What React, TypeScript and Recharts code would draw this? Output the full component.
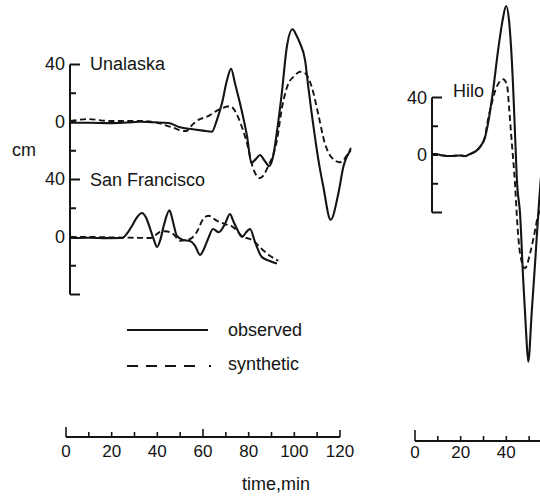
import { Line, LineChart, ReferenceLine, XAxis, YAxis } from 'recharts';

type Row = [number, number];

// [time (min), water height (cm)]
const unalaskaObserved: Row[] = [
  [2, -0.5], [10, -0.5], [20, -0.8], [27, -0.4], [32, 0.2], [38, -0.2], [45, -0.7],
  [49.9, -3.7], [55.6, -5], [60, -6], [63.9, -6.8], [66, 1], [68.3, 13], [70.5, 29],
  [72.3, 37], [74, 27], [76.2, 13], [79.3, -10], [81.2, -28.5], [83, -26], [85, -23],
  [87, -27], [89, -30.6], [90.7, -24], [92.3, -7.7], [94.5, 20], [96.7, 52], [99.2, 64.5],
  [101, 60], [102.5, 54.7], [104.7, 43], [106.1, 24.6], [107.6, 6], [109, -10],
  [110.5, -26], [112.7, -45], [115.9, -68], [119.3, -49.6], [121.5, -31], [124.7, -19.5],
];
const unalaskaSynthetic: Row[] = [
  [2, 0.7], [9.6, 2], [19, 0.7], [32, 0.7], [40, -0.5], [44, -2.5], [47, -4], [50, -5.8],
  [52.5, -6.3], [55.6, -1.5], [58, 1.5], [61.8, 3.7], [66.6, 8.3], [71.8, 11], [73.5, 9],
  [75.3, 3.5], [79.3, -15], [81.9, -32], [85, -39], [88.5, -31], [92.4, -12.5], [94.6, 10],
  [97.2, 26], [100, 32], [102.5, 35], [104.7, 34], [107.7, 24], [110.4, 6], [113.4, -15],
  [116.5, -25], [120, -28], [123.1, -23], [124.8, -18],
];
const sanFranciscoObserved: Row[] = [
  [2, -0.7], [10, -0.5], [18, -0.8], [24.5, -0.7], [27, 3], [29, 8], [31, 13.5],
  [33.3, 16.7], [35.2, 13], [37, 5], [38.5, -2], [39.9, -7], [41.3, -2], [43, 9],
  [45.3, 18.5], [46.8, 11], [48.5, 1], [51.2, -2], [54.3, -2.8], [56.5, -6], [58.7, -12.5],
  [60.5, -8], [62.2, -1.4], [64.4, 5.6], [66.9, 3.3], [69.6, 9], [71.8, 16], [73.3, 11],
  [74.9, 5.6], [77.1, 0], [79, 3.5], [80.6, 5.6], [82.8, -3.5], [85.8, -14], [89.3, -16.7],
  [92.4, -18.5],
];
const sanFranciscoSynthetic: Row[] = [
  [2, 0], [10, 0], [20, -0.3], [30, -0.5], [37, -0.7], [41.2, 3.5], [43.5, 4], [47, 2],
  [50, -2.6], [54.3, -1.4], [57.2, 3.3], [60.1, 12.5], [62.3, 14.8], [66, 11.4], [69.6, 9],
  [73.3, 6.7], [76.9, 0.9], [82, -2.6], [85.7, -8.3], [89.3, -13], [93, -16.5],
];
const hiloObserved: Row[] = [
  [7.5, 0.5], [8.8, 0.7], [12, -0.3], [15.3, -0.7], [19.7, -0.3], [22, -0.8], [24.1, 0.7],
  [26.5, 2.5], [28.5, 5.6], [30.7, 12.5], [32, 22], [34.2, 45], [36.4, 73], [38.4, 94],
  [39.9, 103.7], [41.3, 91.6], [42.9, 50], [43.8, 15], [44.7, -19.5], [46, -40.6],
  [47.4, -87], [48.6, -121.7], [49.6, -143.8], [51.1, -110], [52.6, -75], [54, -40.6],
  [55.2, -15], [56.5, 5],
];
const hiloSynthetic: Row[] = [
  [7.5, 0.5], [8.8, 0.7], [12, -0.3], [15.3, -0.7], [19.7, -0.3], [22, -0.8], [24.1, 0.7],
  [26.5, 2.5], [28.5, 5.6], [30.7, 13], [31.4, 19.7], [33.6, 36], [35.8, 47.5], [38.7, 52.7],
  [40.4, 47.5], [41.3, 31], [42.3, 10.4], [43.8, -20], [44.8, -47.5], [46, -68.4],
  [48.2, -78.8], [50.4, -68.4], [52.6, -52.2], [53.6, -44], [55, -37], [57, -25],
];

const leftCmTicks = [40, 20, 0, -20, -40, -60, -80, -100, -120];
const leftCmTickLabels = ['40', '', '0', '', '40', '', '0', '', ''];
const hiloCmTicks = [40, 20, 0, -20, -40];
const hiloCmTickLabels = ['40', '', '0', '', ''];
const leftTimeTicks = [0, 10, 20, 30, 40, 50, 60, 70, 80, 90, 100, 110, 120];
const leftTimeLabels = [0, 20, 40, 60, 80, 100, 120];
const hiloTimeTicks = [0, 10, 20, 30, 40, 50, 60];
const hiloTimeLabels = [0, 20, 40];

const INK = '#141414';
const FONT = '"Liberation Sans", Arial, Helvetica, sans-serif';
const CM = 1.4375; // px per cm
const MIN = 274 / 120; // px per minute
const SF_OFFSET = -80; // San Francisco is drawn 80 cm below Unalaska

type Trace = { rows: Row[]; offset?: number; dashed?: boolean };

type PanelProps = {
  left: number;
  top: number;
  t0: number;
  axisX: number;
  zeroY: number;
  cmTop: number;
  cmBottom: number;
  tMax: number;
  axisFrom: number;
  axisTo: number;
  ticks: number[];
  tickLabels: string[];
  longTicks: number[];
  traces: Trace[];
};

const TracePanel = ({
  left, top, t0, axisX, zeroY, cmTop, cmBottom, tMax, axisFrom, axisTo, ticks, tickLabels, longTicks, traces,
}: PanelProps) => {
  const tMin = (axisX - t0) / MIN;
  const marginTop = zeroY - cmTop * CM - top;
  const height = marginTop + (cmTop - cmBottom) * CM;
  const width = t0 + tMax * MIN - left;

  const renderTick = (props: any) => {
    const { x, y, payload } = props;
    const idx = ticks.indexOf(payload.value);
    const len = longTicks.includes(payload.value) ? 10 : 6;
    const label = tickLabels[idx];
    return (
      <g>
        <line x1={x} x2={x + len} y1={y} y2={y} stroke={INK} strokeWidth={2} />
        {label ? (
          <text x={x - 5} y={y} textAnchor="end" dominantBaseline="central" fontFamily={FONT} fontSize={18} fill={INK}>
            {label}
          </text>
        ) : null}
      </g>
    );
  };

  return (
    <div style={{ position: 'absolute', left, top }}>
      <LineChart width={width} height={height} margin={{ top: marginTop, right: 0, bottom: 0, left: 0 }}>
        <XAxis type="number" dataKey="t" domain={[tMin, tMax]} hide allowDataOverflow />
        <YAxis
          type="number"
          domain={[cmBottom, cmTop]}
          ticks={ticks}
          interval={0}
          width={axisX - left}
          axisLine={false}
          tickLine={false}
          tickSize={0}
          tickMargin={0}
          tick={renderTick}
          allowDataOverflow
        />
        <ReferenceLine
          segment={[{ x: tMin, y: axisFrom }, { x: tMin, y: axisTo }]}
          stroke={INK}
          strokeWidth={2}
          ifOverflow="visible"
        />
        {traces.map((tr, i) => (
          <Line
            key={i}
            data={tr.rows.map(([t, v]) => ({ t, v: v + (tr.offset ?? 0) }))}
            dataKey="v"
            type="monotone"
            stroke={INK}
            strokeWidth={tr.dashed ? 1.9 : 2.1}
            strokeDasharray={tr.dashed ? '6 3.5' : undefined}
            dot={false}
            activeDot={false}
            isAnimationActive={false}
          />
        ))}
      </LineChart>
    </div>
  );
};

type TimeAxisProps = {
  left: number;
  t0: number;
  axisY: number;
  tMax: number;
  padRight: number;
  ticks: number[];
  labels: number[];
  tickLen: (t: number) => number;
  labelDy: number;
};

const TimeAxis = ({ left, t0, axisY, tMax, padRight, ticks, labels, tickLen, labelDy }: TimeAxisProps) => {
  const height = 60;
  const axisHeight = 30;
  const top = axisY - (height - axisHeight);
  const width = t0 + tMax * MIN - left + padRight;

  const renderTick = (props: any) => {
    const { x, y, payload } = props;
    const v = payload.value as number;
    return (
      <g>
        <line x1={x} x2={x} y1={y} y2={y - tickLen(v)} stroke={INK} strokeWidth={1.6} />
        {labels.includes(v) ? (
          <text x={x} y={y + labelDy} textAnchor="middle" dominantBaseline="central" fontFamily={FONT} fontSize={17} fill={INK}>
            {v}
          </text>
        ) : null}
      </g>
    );
  };

  return (
    <div style={{ position: 'absolute', left, top }}>
      <LineChart
        width={width}
        height={height}
        data={ticks.map((t) => ({ t }))}
        margin={{ top: 0, right: padRight, bottom: 0, left: t0 - left }}
      >
        <XAxis
          type="number"
          dataKey="t"
          domain={[0, tMax]}
          ticks={ticks}
          interval={0}
          height={axisHeight}
          tickSize={0}
          tickMargin={0}
          tickLine={false}
          axisLine={{ stroke: INK, strokeWidth: 2 }}
          tick={renderTick}
        />
      </LineChart>
    </div>
  );
};

export default function App() {
  return (
    <div
      style={{
        position: 'absolute',
        left: 0,
        top: 0,
        width: 540,
        height: 497,
        overflow: 'hidden',
        background: '#fff',
      }}
    >
      <style>{'body{margin:0}'}</style>
      <TracePanel
        left={0}
        top={0}
        t0={66}
        axisX={70}
        zeroY={122}
        cmTop={70}
        cmBottom={-130}
        tMax={130}
        axisFrom={40}
        axisTo={-120}
        ticks={leftCmTicks}
        tickLabels={leftCmTickLabels}
        longTicks={[40, -40, -120]}
        traces={[
          { rows: unalaskaSynthetic, dashed: true },
          { rows: unalaskaObserved },
          { rows: sanFranciscoSynthetic, offset: SF_OFFSET, dashed: true },
          { rows: sanFranciscoObserved, offset: SF_OFFSET },
        ]}
      />
      <TracePanel
        left={370}
        top={-20}
        t0={415}
        axisX={432}
        zeroY={155}
        cmTop={115}
        cmBottom={-160}
        tMax={60}
        axisFrom={40}
        axisTo={-40}
        ticks={hiloCmTicks}
        tickLabels={hiloCmTickLabels}
        longTicks={[40, -40]}
        traces={[
          { rows: hiloSynthetic, dashed: true },
          { rows: hiloObserved },
        ]}
      />
      <TimeAxis
        left={0}
        t0={66}
        axisY={437}
        tMax={120}
        padRight={20}
        ticks={leftTimeTicks}
        labels={leftTimeLabels}
        tickLen={(t) => (t === 0 ? 10 : t === 60 ? 8 : t === 120 ? 7 : 5)}
        labelDy={14}
      />
      <TimeAxis
        left={370}
        t0={415}
        axisY={441}
        tMax={60}
        padRight={0}
        ticks={hiloTimeTicks}
        labels={hiloTimeLabels}
        tickLen={(t) => (t === 0 ? 11 : 5)}
        labelDy={11}
      />
      <svg
        width={540}
        height={497}
        style={{ position: 'absolute', left: 0, top: 0, pointerEvents: 'none' }}
        fontFamily={FONT}
        fontSize={18}
        fill={INK}
      >
        <text x={90} y={70}>Unalaska</text>
        <text x={90} y={186}>San Francisco</text>
        <text x={453} y={97}>Hilo</text>
        <text x={12} y={156}>cm</text>
        <text x={242} y={490}>time,min</text>
        <line x1={127} x2={208} y1={330} y2={330} stroke={INK} strokeWidth={2} />
        <text x={228} y={336}>observed</text>
        <line
          x1={127}
          x2={211}
          y1={366}
          y2={366}
          stroke={INK}
          strokeWidth={2}
          strokeDasharray="11 8 11 8 11 8 11 14 2"
        />
        <text x={228} y={370}>synthetic</text>
      </svg>
    </div>
  );
}
